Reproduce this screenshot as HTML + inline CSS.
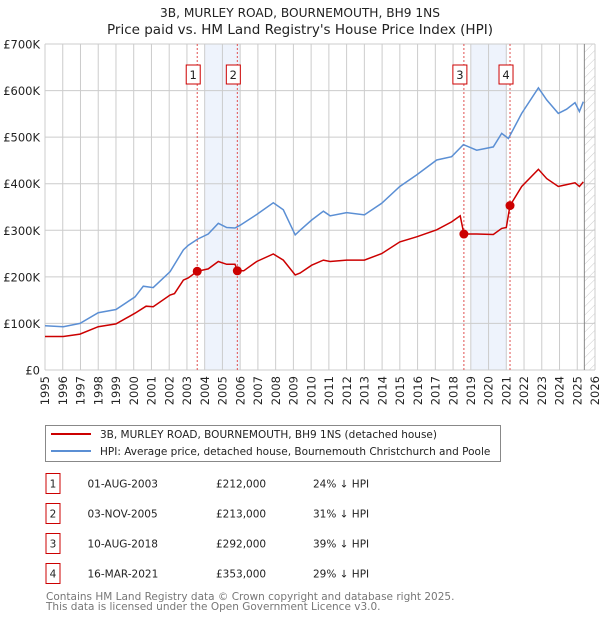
<!DOCTYPE html>
<html><head><meta charset="utf-8">
<style>
body{margin:0;background:#fff;}
svg{display:block;font-family:"DejaVu Sans","Liberation Sans",sans-serif;}
</style></head>
<body>
<svg id="chart" width="600" height="620" viewBox="0 0 600 620" xmlns="http://www.w3.org/2000/svg">
<defs>
<pattern id="hatch" width="6" height="6" patternUnits="userSpaceOnUse" patternTransform="rotate(45)">
<line x1="0" y1="0" x2="0" y2="6" stroke="#ccc" stroke-width="1"/>
</pattern>
</defs>
<text x="300" y="17" text-anchor="middle" font-size="12.2" fill="#222">3B, MURLEY ROAD, BOURNEMOUTH, BH9 1NS</text>
<text x="300" y="34" text-anchor="middle" font-size="13.5" fill="#222">Price paid vs. HM Land Registry's House Price Index (HPI)</text>
<g id="shades"></g>
<g id="grid"></g>
<g id="vlines"></g>
<g id="series"></g>
<g id="markers"></g>
<g id="axes"></g>

<g>
<rect x="45.5" y="425.5" width="455" height="36" fill="#fff" stroke="#888"/>
<line x1="51" y1="434" x2="91" y2="434" stroke="#cc0000" stroke-width="2"/>
<text x="100" y="438" font-size="10.5" fill="#222">3B, MURLEY ROAD, BOURNEMOUTH, BH9 1NS (detached house)</text>
<line x1="51" y1="451" x2="91" y2="451" stroke="#5b8fd4" stroke-width="2"/>
<text x="100" y="455" font-size="10.5" fill="#222">HPI: Average price, detached house, Bournemouth Christchurch and Poole</text>
</g>
<g id="table" font-size="10.5" fill="#222"></g>
<text x="46" y="600" font-size="10.5" fill="#777">Contains HM Land Registry data © Crown copyright and database right 2025.</text>
<text x="46" y="610" font-size="10.5" fill="#777">This data is licensed under the Open Government Licence v3.0.</text>
</svg>
<script>
const hpiYears=[1995,1996.03,1996.97,1998,1999,2000.07,2000.54,2001.1,2002.05,2002.8,2003.08,2003.6,2004.2,2004.77,2005.24,2005.71,2006,2006.93,2007.87,2008.43,2009.1,2009.37,2010.03,2010.69,2011.07,2012,2013,2013.98,2015,2015.95,2017.08,2017.92,2018.58,2019.33,2020.27,2020.74,2021.12,2021.87,2022.81,2023.28,2023.93,2024.4,2024.87,2025.12,2025.34];
const hpiValues=[95,93,100,123,130,157,180,177,211,258,268,281,292,315,306,305,311,334,359,344,290,300,322,341,331,338,333,358,394,419,451,458,484,472,479,508,497,551,606,580,551,560,574,555,576];
const propYears=[1995,1996.03,1996.97,1998,1999,2000.07,2000.7,2001.1,2002.05,2002.3,2002.8,2003.08,2003.58,2004.2,2004.77,2005.24,2005.71,2005.84,2006.2,2006.93,2007.87,2008.43,2009.1,2009.37,2010.03,2010.69,2011.07,2012,2013,2013.98,2015,2015.95,2017.08,2017.92,2018.4,2018.61,2019.33,2020.27,2020.74,2021.0,2021.21,2021.87,2022.81,2023.28,2023.93,2024.4,2024.87,2025.12,2025.34];
const propValues=[72,72,77,93,99,122,137,136,161,164,193,198,212,217,233,227,227,213,213,233,249,236,204,208,225,236,233,236,236,250,275,286,301,318,331,292,292,291,304,306,353,394,431,411,394,398,402,394,404];
const saleLabels=["1","2","3","4"];
const saleYears=[2003.58,2005.84,2018.61,2021.21];
const saleValues=[212,213,292,353];
const saleDates=["01-AUG-2003","03-NOV-2005","10-AUG-2018","16-MAR-2021"];
const salePrices=["£212,000","£213,000","£292,000","£353,000"];
const saleHpi=["24% ↓ HPI","31% ↓ HPI","39% ↓ HPI","29% ↓ HPI"];
const shadeStart=[2004,2019];
const shadeEnd=[2006,2021];
const yTicks=[0,100,200,300,400,500,600,700];
const yTickLabels=["£0","£100K","£200K","£300K","£400K","£500K","£600K","£700K"];
const xStart=1995, xEnd=2026, yMax=700, forecastStart=2025.4;

const NS="http://www.w3.org/2000/svg";
const L=45,R=595,T=44,B=370;
const xs=y=>L+(y-xStart)/(xEnd-xStart)*(R-L);
const ys=v=>B-v/yMax*(B-T);
function mk(tag,attrs,parent){const e=document.createElementNS(NS,tag);for(const k in attrs)e.setAttribute(k,attrs[k]);parent.appendChild(e);return e;}
const g=id=>document.getElementById(id);

for(let i=0;i<shadeStart.length;i++){
 const r=mk('rect',{x:xs(shadeStart[i]),y:T,width:xs(shadeEnd[i])-xs(shadeStart[i]),height:B-T,fill:'#eef3fc'},g('shades'));
 
 
}
const hr=mk('rect',{x:xs(forecastStart),y:T,width:R-xs(forecastStart),height:B-T,fill:'url(#hatch)'},g('shades'));



for(let y=xStart;y<=xEnd;y++){
 const l=mk('line',{x1:xs(y),x2:xs(y),y1:T,y2:B,stroke:'#ccc','stroke-width':1},g('grid'));
 
 
 const t=mk('text',{x:0,y:0,'font-size':11.5,fill:'#222','text-anchor':'end',transform:`translate(${xs(y)+4.2},376) rotate(-90)`},g('axes'));
 t.textContent=y;
 
 
}
for(let i=0;i<yTicks.length;i++){
 const l=mk('line',{x1:L,x2:R,y1:ys(yTicks[i]),y2:ys(yTicks[i]),stroke:'#ccc','stroke-width':1},g('grid'));
 
 
 const t=mk('text',{x:40,y:ys(yTicks[i])+4.5,'font-size':11.5,fill:'#222','text-anchor':'end'},g('axes'));
 t.textContent=yTickLabels[i];
 
 
}
const fl=mk('line',{x1:xs(forecastStart),x2:xs(forecastStart),y1:T,y2:B,stroke:'#888','stroke-width':1},g('grid'));



function path(xa,va){return xa.map((x,i)=>(i?'L':'M')+xs(x).toFixed(1)+' '+ys(va[i]).toFixed(1)).join(' ');}
const hp=mk('path',{d:path(hpiYears,hpiValues),fill:'none',stroke:'#5b8fd4','stroke-width':1.5},g('series'));


const pp=mk('path',{d:path(propYears,propValues),fill:'none',stroke:'#cc0000','stroke-width':1.5},g('series'));



for(let i=0;i<saleYears.length;i++){
 const x=xs(saleYears[i]);
 const vl=mk('line',{x1:x,x2:x,y1:T,y2:B,stroke:'#e05050','stroke-width':1,'stroke-dasharray':'2,2'},g('vlines'));
 
 
 const c=mk('circle',{cx:x,cy:ys(saleValues[i]),r:4.5,fill:'#cc0000'},g('markers'));
 
 
 const b=mk('rect',{x:x-11,y:65,width:14,height:19,fill:'#fff',stroke:'#cc0000'},g('markers'));
 
 
 const t=mk('text',{x:x-4,y:79,'font-size':11.5,fill:'#222','text-anchor':'middle'},g('markers'));
 t.textContent=saleLabels[i];
 
 

 const cy=483.5+i*30;
 const tb=mk('rect',{x:46,y:cy-10,width:14,height:20,fill:'#fff',stroke:'#cc0000'},g('table'));
 
 
 const tn=mk('text',{x:53,y:cy+4,'text-anchor':'middle'},g('table'));
 tn.textContent=saleLabels[i];
 
 
 const td=mk('text',{x:87.5,y:cy+4},g('table'));
 td.textContent=saleDates[i];
 
 
 const tp=mk('text',{x:216,y:cy+4},g('table'));
 tp.textContent=salePrices[i];
 
 
 const th=mk('text',{x:313,y:cy+4},g('table'));
 th.textContent=saleHpi[i];
 
 
}
</script>
</body></html>
